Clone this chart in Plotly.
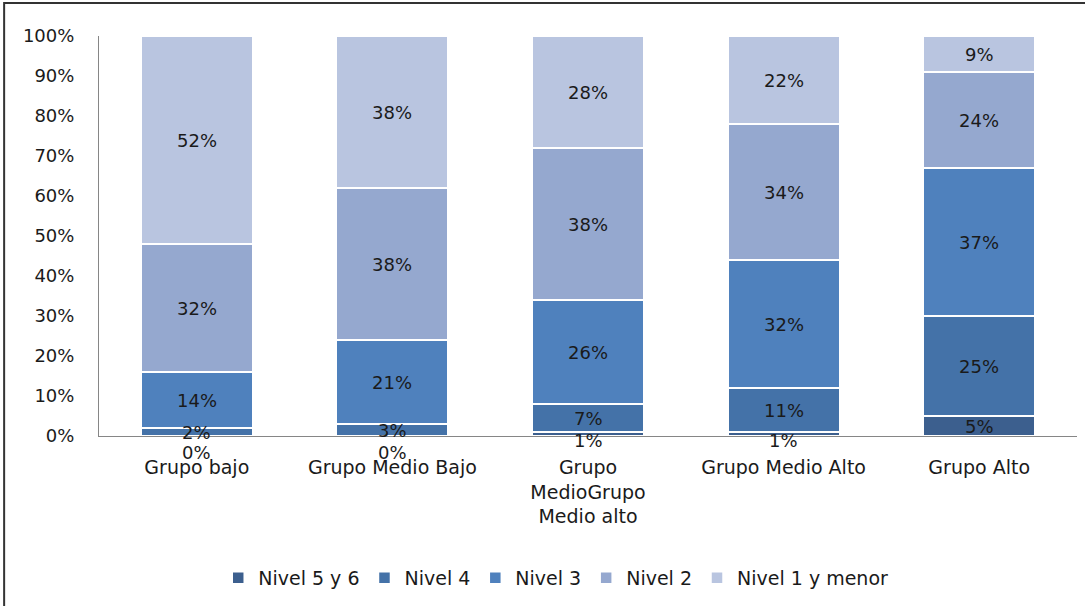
import plotly.graph_objects as go

categories = ["Grupo bajo", "Grupo Medio Bajo", "Grupo<br>MedioGrupo<br>Medio alto",
              "Grupo Medio Alto", "Grupo Alto"]
series_names = ["Nivel 5 y 6", "Nivel 4", "Nivel 3", "Nivel 2", "Nivel 1 y menor"]
nivel_5y6 = [0, 0, 1, 1, 5]
nivel_4 = [2, 3, 7, 11, 25]
nivel_3 = [14, 21, 26, 32, 37]
nivel_2 = [32, 38, 38, 34, 24]
nivel_1 = [52, 38, 28, 22, 9]
colors = ["#3C5F8E", "#4472A8", "#4F81BD", "#95A8CF", "#B9C5E0"]

series_values = [nivel_5y6, nivel_4, nivel_3, nivel_2, nivel_1]

FONT = "DejaVu Sans"
fig = go.Figure()
for name, vals, col in zip(series_names, series_values, colors):
    fig.add_trace(go.Bar(
        x=categories, y=[v / 100 for v in vals], name=name,
        marker=dict(color=col, line=dict(color="white", width=1.5)),
        hoverinfo="skip",
    ))

# data labels at segment centres
annotations = []
base = [0] * len(categories)
for vals in series_values:
    for i, v in enumerate(vals):
        mid = (base[i] + v / 2) / 100
        if v == 0:
            shift = -16
        elif v <= 1:
            shift = -6
        else:
            shift = 0
        annotations.append(dict(
            x=categories[i], y=mid, xref="x", yref="y", text=f"{v}%",
            showarrow=False, yshift=shift,
            font=dict(family=FONT, size=18, color="#1a1a1a"),
        ))
        base[i] += v

fig.update_layout(
    width=1085, height=606,
    margin=dict(l=99, r=8, t=36, b=170),
    paper_bgcolor="white", plot_bgcolor="white",
    barmode="stack", bargap=0.43,
    showlegend=True,
    legend=dict(orientation="h", x=0.467, xanchor="center", y=-0.355, yanchor="middle",
                traceorder="normal", font=dict(family=FONT, size=19, color="#1a1a1a"),
                itemwidth=30),
    annotations=annotations,
    shapes=[dict(type="rect", xref="paper", yref="paper",
                 x0=-0.097, x1=1.2, y0=-0.6, y1=1.0825,
                 line=dict(color="#333333", width=2), layer="below")],
)
fig.update_yaxes(range=[0, 1], tickvals=[i / 10 for i in range(11)], tickformat=".0%",
                 showgrid=False, showline=True, linecolor="#868686", linewidth=1,
                 ticks="", ticklabelstandoff=20,
                 tickfont=dict(family=FONT, size=18, color="#1a1a1a"), zeroline=False)
fig.update_xaxes(showline=True, linecolor="#868686", linewidth=1, ticks="",
                 ticklabelstandoff=14,
                 tickfont=dict(family=FONT, size=19, color="#1a1a1a"))

fig.write_html("out.html")
